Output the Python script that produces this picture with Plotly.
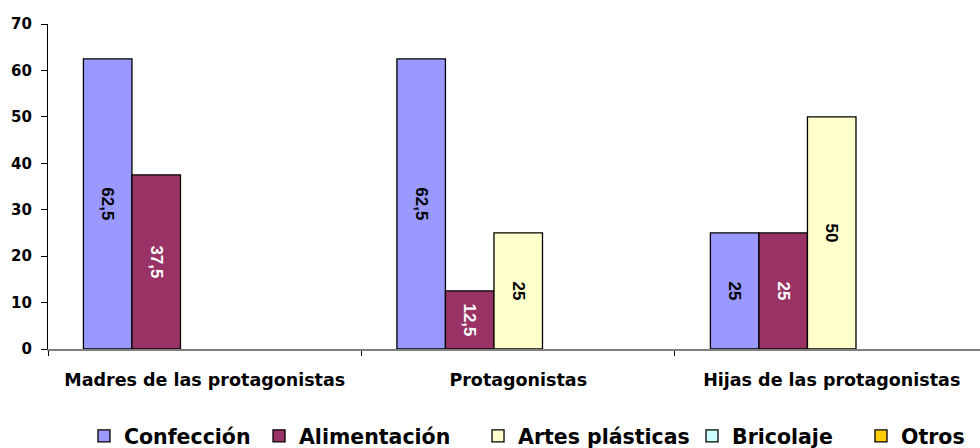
import plotly.graph_objects as go

categories = ["Madres de las protagonistas", "Protagonistas", "Hijas de las protagonistas"]
series_names = ["Confección", "Alimentación", "Artes plásticas", "Bricolaje", "Otros"]
confeccion = [62.5, 62.5, 25]
alimentacion = [37.5, 12.5, 25]
artes_plasticas = [None, 25, 50]
bricolaje = [None, None, None]
otros = [None, None, None]
y_ticks = [0, 10, 20, 30, 40, 50, 60, 70]

series_values = [confeccion, alimentacion, artes_plasticas, bricolaje, otros]
colors = ["#9999FF", "#993366", "#FFFFCC", "#CCFFFF", "#FFCC00"]
text_colors = ["black", "white", "black", "black", "black"]
legend_x = [0.0386, 0.2264, 0.4614, 0.691, 0.8723]


def fmt(v):
    if v is None:
        return ""
    return ("%g" % v).replace(".", ",")


fig = go.Figure()
for i, (name, vals, col, tcol) in enumerate(zip(series_names, series_values, colors, text_colors)):
    fig.add_trace(go.Bar(
        name=name,
        x=categories,
        y=vals,
        marker=dict(color=col, line=dict(color="black", width=1.3)),
        text=[fmt(v) for v in vals],
        textposition="inside",
        insidetextanchor="middle",
        textangle=90,
        constraintext="none",
        textfont=dict(family="Liberation Sans, Arial", size=17, color=tcol, weight="bold"),
        showlegend=True,
        legend="legend" if i == 0 else "legend%d" % (i + 1),
    ))

legend_common = dict(
    orientation="h", xanchor="left", y=-0.268, yanchor="middle",
    font=dict(family="DejaVu Sans", size=20.5, color="black", weight="bold"),
    itemclick=False, itemdoubleclick=False, bgcolor="rgba(0,0,0,0)",
)
legends = {}
for i, lx in enumerate(legend_x):
    key = "legend" if i == 0 else "legend%d" % (i + 1)
    legends[key] = dict(legend_common, x=lx)

fig.update_layout(
    width=980, height=448,
    margin=dict(l=48, r=0, t=24, b=99, autoexpand=False),
    plot_bgcolor="white", paper_bgcolor="white",
    barmode="group", bargap=0.226, bargroupgap=0,
    font=dict(family="DejaVu Sans", color="black"),
    uniformtext=dict(mode=False),
    xaxis=dict(
        type="category",
        range=[-0.5, 2.473],
        automargin=False,
        showline=True, linecolor="#808080", linewidth=1.5,
        ticks="outside", tickson="boundaries", ticklen=5, tickcolor="black", tickwidth=1,
        tickfont=dict(family="DejaVu Sans", size=17.5, color="black", weight="bold"),
        ticklabelstandoff=14,
        showgrid=False, zeroline=False,
    ),
    yaxis=dict(
        range=[0, 70],
        automargin=False,
        tickvals=y_ticks,
        showline=True, linecolor="black", linewidth=1.3,
        ticks="outside", ticklen=6, tickcolor="black",
        tickfont=dict(family="DejaVu Sans", size=15, color="black", weight="bold"),
        ticklabelstandoff=6,
        showgrid=False, zeroline=False,
    ),
    **legends,
)

fig.write_html(
    "out.html",
    config={"displayModeBar": False},
    post_script="document.body.style.margin='0';document.body.style.overflow='hidden';",
)
